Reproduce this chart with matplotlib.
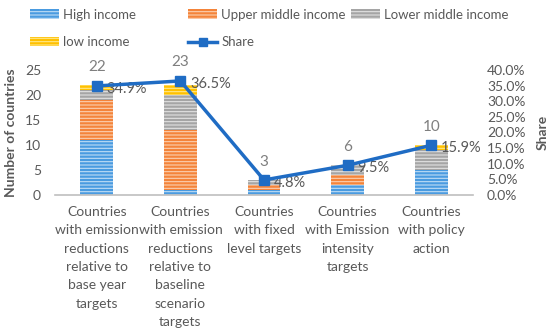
import matplotlib
matplotlib.use("Agg")
import matplotlib.pyplot as plt
from matplotlib.patches import Patch
from matplotlib.lines import Line2D
import numpy as np

# ---------------------------------------------------------------------------
# Data
# ---------------------------------------------------------------------------
categories = [
    "Countries\nwith emission\nreductions\nrelative to\nbase year\ntargets",
    "Countries\nwith emission\nreductions\nrelative to\nbaseline\nscenario\ntargets",
    "Countries\nwith fixed\nlevel targets",
    "Countries\nwith Emission\nintensity\ntargets",
    "Countries\nwith policy\naction",
]
high_income = [11, 1, 1, 2, 5]
upper_middle = [8, 12, 1, 2, 0]
lower_middle = [2, 7, 1, 2, 4]
low_income = [1, 2, 0, 0, 1]
totals = [22, 23, 3, 6, 10]
share = [34.9, 36.5, 4.8, 9.5, 15.9]

# ---------------------------------------------------------------------------
# Style
# ---------------------------------------------------------------------------
plt.rcParams["font.family"] = ["Lato", "DejaVu Sans"]
plt.rcParams["hatch.linewidth"] = 0.8
TXT = "#595959"

series = [
    ("High income", high_income, "#4A9BE0", "#BFDDF5"),
    ("Upper middle income", upper_middle, "#F4843A", "#FBD0B0"),
    ("Lower middle income", lower_middle, "#A5A5A5", "#E2E2E2"),
    ("low income", low_income, "#FFC000", "#FFE88A"),
]
LINE_C = "#1F6CC4"

fig = plt.figure(figsize=(5.5, 3.35), dpi=100)
ax = fig.add_axes([0.1, 0.418, 0.76, 0.373])
ax2 = ax.twinx()

x = np.arange(len(categories))
width = 0.39
bottom = np.zeros(len(categories))
handles = []
for name, vals, fc, hc in series:
    ax.bar(x, vals, width, bottom=bottom, color=fc, edgecolor=hc,
           linewidth=0, hatch="-----", zorder=2)
    bottom += np.array(vals)
    handles.append(Patch(facecolor=fc, edgecolor=hc, hatch="-----",
                         linewidth=0, label=name))

for i, t in enumerate(totals):
    ax.text(x[i], t + 2.2, str(t), ha="center", va="bottom",
            fontsize=11, color="#7F7F7F")

ax2.plot(x, np.array(share) / 100, color=LINE_C, lw=2.5, marker="s",
         markersize=7, zorder=5)
for i, s in enumerate(share):
    ax2.annotate(f"{s:.1f}%", (x[i], s / 100), xytext=(7, -2),
                 textcoords="offset points", ha="left", va="center",
                 fontsize=10.5, color=TXT)

ax.set_ylim(0, 25)
ax.set_yticks(range(0, 26, 5))
ax2.set_ylim(0, 0.40)
ax2.set_yticks(np.arange(0, 0.41, 0.05))
ax2.set_yticklabels([f"{v * 100:.1f}%" for v in np.arange(0, 0.41, 0.05)])
ax.set_xlim(-0.5, 4.5)
ax.set_xticks(x)
ax.set_xticklabels(categories, fontsize=10, color=TXT, linespacing=1.63)

for a in (ax, ax2):
    for side in ("top", "left", "right", "bottom"):
        a.spines[side].set_visible(False)
    a.tick_params(length=0, labelsize=10, colors=TXT)
ax.spines["bottom"].set_visible(True)
ax.spines["bottom"].set_color("#BFBFBF")
ax.spines["bottom"].set_linewidth(1.2)
ax.tick_params(axis="x", pad=8)
ax.tick_params(axis="y", pad=10)
ax2.tick_params(axis="y", pad=10)

ax.set_ylabel("Number of countries", fontsize=10, fontweight="bold",
              color=TXT, labelpad=6)
ax2.set_ylabel("Share", fontsize=10, fontweight="bold", color=TXT,
               labelpad=8)

share_handle = Line2D([], [], color=LINE_C, lw=2.5, marker="s",
                      markersize=6, label="Share")

leg_kw = dict(frameon=False, fontsize=9.5, labelcolor=TXT, handlelength=2.2,
              handletextpad=0.3, labelspacing=1.2, borderaxespad=0)
fig.legend(handles=[handles[0], handles[3]], loc="upper left",
           bbox_to_anchor=(0.045, 0.99), **leg_kw)
fig.legend(handles=[handles[1], share_handle], loc="upper left",
           bbox_to_anchor=(0.333, 0.99), **leg_kw)
fig.legend(handles=[handles[2]], loc="upper left",
           bbox_to_anchor=(0.628, 0.99), **leg_kw)

fig.savefig("out.png", dpi=100)
